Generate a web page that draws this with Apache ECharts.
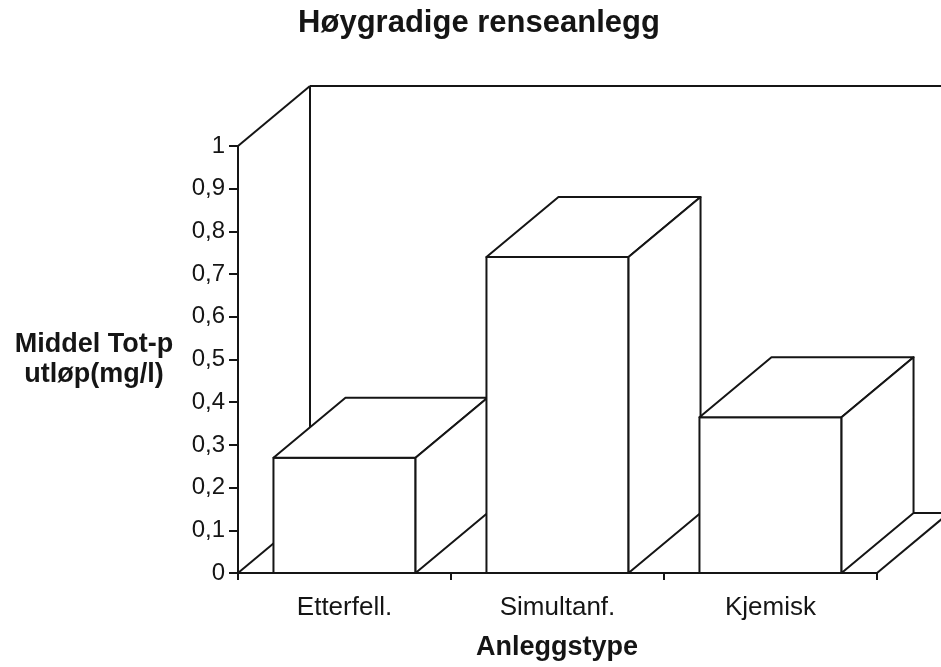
<!DOCTYPE html>
<html>
<head>
<meta charset="utf-8">
<script src="https://cdn.jsdelivr.net/npm/echarts@6/dist/echarts.min.js"></script>
<style>
  html, body { margin: 0; padding: 0; background: #fff; }
  #chart { width: 941px; height: 667px; }
</style>
</head>
<body>
<div id="chart"></div>
<script>
// data
const categories = ['Etterfell.', 'Simultanf.', 'Kjemisk'];
const values = [0.27, 0.74, 0.365];
const yMin = 0, yMax = 1, yStep = 0.1;

// 3D depth offset of the old spreadsheet look (pixels)
const DX = 72, DY = -60;
const INK = '#151515';
const FONT = '"Liberation Sans", Arial, sans-serif';

const chart = echarts.init(document.getElementById('chart'));

const lineStyle = { stroke: INK, lineWidth: 2, fill: null };

// back wall + floor + side wall edges
function renderFrame(params, api) {
  const cs = params.coordSys;
  const x = cs.x, y = cs.y, w = cs.width, h = cs.height;
  const segs = [
    [[x, y + h], [x + DX, y + h + DY]],
    [[x + DX, y + h + DY], [x + w + DX, y + h + DY]],
    [[x + w, y + h], [x + w + DX, y + h + DY]],
    [[x + DX, y + h + DY], [x + DX, y + DY]],
    [[x + DX, y + DY], [x + w + DX, y + DY]],
    [[x, y], [x + DX, y + DY]],
    [[x + w + DX, y + DY], [x + w + DX, y + h + DY]]
  ];
  return {
    type: 'group',
    children: segs.map(s => ({
      type: 'polyline',
      shape: { points: s },
      style: lineStyle
    }))
  };
}

// one white box per bar
function renderBox(params, api) {
  const idx = api.value(0);
  const base = api.coord([idx, 0]);
  const top = api.coord([idx, api.value(1)]);
  const bw = api.size([1, 0])[0] * 0.667;
  const xl = base[0] - bw / 2, xr = base[0] + bw / 2;
  const yb = base[1], yt = top[1];
  const style = { fill: '#fff', stroke: INK, lineWidth: 2, lineJoin: 'round' };
  return {
    type: 'group',
    children: [
      { type: 'polygon', shape: { points: [[xl, yb], [xr, yb], [xr, yt], [xl, yt]] }, style },
      { type: 'polygon', shape: { points: [[xl, yt], [xr, yt], [xr + DX, yt + DY], [xl + DX, yt + DY]] }, style },
      { type: 'polygon', shape: { points: [[xr, yb], [xr + DX, yb + DY], [xr + DX, yt + DY], [xr, yt]] }, style }
    ]
  };
}

const option = {
  backgroundColor: '#fff',
  animation: false,
  title: [
    {
      text: 'Høygradige renseanlegg',
      left: 479, top: 8, textAlign: 'center', padding: 0,
      textStyle: { fontFamily: FONT, fontSize: 31, fontWeight: 'bold', color: INK }
    },
    {
      text: 'Middel Tot-p\nutløp(mg/l)',
      left: 94, top: 330, textAlign: 'center', padding: 0,
      textStyle: { fontFamily: FONT, fontSize: 27, fontWeight: 'bold', color: INK, lineHeight: 30 }
    },
    {
      text: 'Anleggstype',
      left: 557, top: 633, textAlign: 'center', padding: 0,
      textStyle: { fontFamily: FONT, fontSize: 27, fontWeight: 'bold', color: INK, lineHeight: 30 }
    }
  ],
  grid: { left: 238, right: 64, top: 146, bottom: 94, containLabel: false },
  xAxis: {
    type: 'category',
    data: categories,
    boundaryGap: true,
    axisLine: { lineStyle: { color: INK, width: 2 } },
    axisTick: { show: true, length: 7, lineStyle: { color: INK, width: 2 } },
    axisLabel: { color: INK, fontFamily: FONT, fontSize: 26, margin: 22 },
    splitLine: { show: false }
  },
  yAxis: {
    type: 'value',
    min: yMin, max: yMax, interval: yStep,
    axisLine: { show: true, lineStyle: { color: INK, width: 2 } },
    axisTick: { show: true, length: 9, lineStyle: { color: INK, width: 2 } },
    axisLabel: {
      color: INK, fontFamily: FONT, fontSize: 24, margin: 13,
      formatter: v => String(Math.round(v * 10) / 10).replace('.', ',')
    },
    splitLine: { show: false }
  },
  series: [
    {
      type: 'custom',
      name: 'frame',
      renderItem: renderFrame,
      data: [[0, 0]],
      encode: { x: 0, y: 1 },
      z: 1,
      silent: true
    },
    {
      type: 'custom',
      name: 'Middel Tot-p',
      renderItem: renderBox,
      data: values.map((v, i) => [i, v]),
      encode: { x: 0, y: 1 },
      z: 3,
      silent: true
    }
  ]
};

chart.setOption(option);
</script>
</body>
</html>
